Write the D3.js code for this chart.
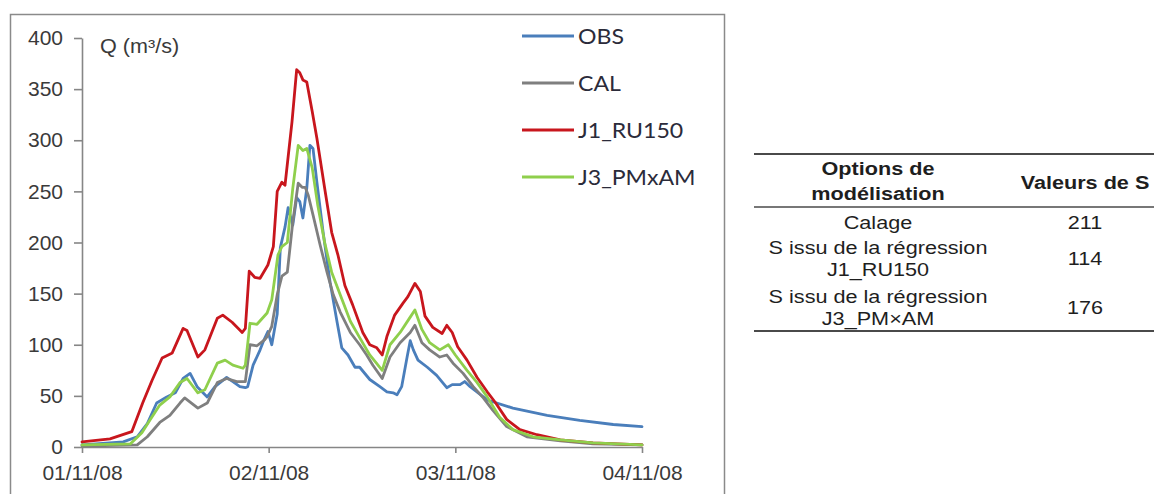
<!DOCTYPE html>
<html>
<head>
<meta charset="utf-8">
<script src="https://cdn.jsdelivr.net/npm/d3@7"></script>
<style>
  html, body { margin: 0; padding: 0; background: #ffffff; }
  svg { display: block; }
</style>
</head>
<body>
<svg id="chart" width="1154" height="494"></svg>
<script>
// ---------------- DATA ----------------
// time in hours since 01/11/08 00:00, discharge Q in m3/s
const seriesNames = ["OBS", "CAL", "J1_RU150", "J3_PMxAM"];

const obsHours = [0,5.3,7.1,8.4,9.6,10.9,12.0,13.0,13.9,14.8,16.1,17.1,18.6,19.4,20.3,21.0,21.3,22.0,22.9,23.3,23.9,24.4,25.1,25.5,26.1,26.5,27.1,27.6,28.0,28.4,28.9,29.3,29.7,30.2,31.0,31.9,32.8,33.4,34.2,35.1,35.7,37.0,38.3,39.2,40.0,40.5,41.1,41.8,42.2,42.6,43.2,44.4,45.6,46.9,47.6,48.6,49.2,49.9,52.1,55.4,59.8,64.0,68.3,72.0];
const obsValues = [2,5,10,23,43,49,53,67,72,59,49,59,68,64,59,58,59,80,95,103,113,100,130,195,215,234,217,244,240,224,253,295,292,259,210,161,122,97,90,78,78,66,59,54,53,51,59,88,104,95,85,78,70,58,61,61,64,59,46,38,31,26,22,20];

const calHours = [0,7.1,8.4,10.0,11.3,12.6,13.2,14.9,16.1,17.4,18.6,19.9,21.0,21.6,22.5,23.5,23.8,24.4,25.1,25.7,26.4,27.1,27.8,28.3,28.7,29.1,29.7,30.6,31.5,32.3,33.2,34.5,35.7,36.6,37.4,38.6,39.6,40.9,42.2,42.8,43.7,44.7,46.0,46.9,47.7,49.0,50.3,51.6,52.8,54.6,57.2,61.5,65.7,72.0];
const calValues = [1,2,10,24,31,43,48,38,43,63,67,64,64,100,99,105,108,118,149,167,171,220,258,254,254,246,227,198,171,149,132,112,100,90,80,67,88,102,112,119,102,95,88,90,82,72,59,48,36,20,10,6,3,2];

const j1Hours = [0,3.6,6.4,7.8,9.0,10.3,11.6,13.0,13.5,14.9,15.8,17.4,18.1,19.3,20.6,21.0,21.5,22.2,22.9,23.9,24.6,25.1,25.7,26.1,27.0,27.6,28.0,28.4,28.9,29.6,30.2,31.2,32.1,32.9,33.8,34.8,36.1,37.0,37.9,38.6,39.2,40.2,41.3,41.9,42.8,43.5,44.1,45.1,46.3,46.9,47.6,48.3,49.5,50.8,52.1,53.1,54.6,56.3,58.5,61.5,65.7,72.0];
const j1Values = [5,8,15,43,65,87,92,116,114,88,95,126,129,122,112,116,172,166,165,178,196,250,259,256,318,369,366,359,357,328,302,253,210,188,158,139,112,100,97,90,108,129,141,147,160,152,128,117,111,119,112,98,85,68,54,44,27,17,12,7,4,2];

const j3Hours = [0,6.2,7.7,8.7,10.0,11.3,12.6,13.5,14.9,15.8,17.4,18.4,19.4,20.7,21.0,21.6,22.5,23.8,24.4,25.2,25.7,26.4,27.1,27.8,28.4,28.9,29.6,30.3,31.2,32.1,33.2,34.5,35.7,37.0,38.6,39.6,40.9,42.2,42.8,43.7,44.7,46.0,47.1,48.0,49.5,50.8,52.1,53.7,55.4,58.0,61.5,65.7,72.0];
const j3Values = [2,3,14,26,41,49,63,67,53,56,82,85,80,77,80,121,120,131,144,188,196,200,253,295,290,292,273,237,200,171,149,123,107,90,75,100,112,127,134,115,102,95,100,90,75,63,49,29,17,10,7,4,2];

const xTickLabels = ["01/11/08", "02/11/08", "03/11/08", "04/11/08"];
const yTickValues = [0, 50, 100, 150, 200, 250, 300, 350, 400];
const yAxisTitle = "Q (m³/s)";

// table
const tableHeaderCol1 = ["Options de", "modélisation"];
const tableHeaderCol2 = "Valeurs de S";
const tableOptions = [["Calage"], ["S issu de la régression", "J1_RU150"], ["S issu de la régression", "J3_PM×AM"]];
const tableValues = [211, 114, 176];

// ---------------- DRAW ----------------
const svg = d3.select("#chart");
const parseTick = d3.timeParse("%d/%m/%y");
const t0 = parseTick(xTickLabels[0]);
const toDate = h => new Date(t0.getTime() + h * 3600 * 1000);

const colors = { "OBS": "#4a7ebb", "CAL": "#7f7f7f", "J1_RU150": "#c8161d", "J3_PMxAM": "#8fcf4c" };
const series = [
  { name: "OBS", hours: obsHours, values: obsValues },
  { name: "CAL", hours: calHours, values: calValues },
  { name: "J1_RU150", hours: j1Hours, values: j1Values },
  { name: "J3_PMxAM", hours: j3Hours, values: j3Values }
];

// chart frame
svg.append("rect")
  .attr("x", 10.5).attr("y", 14.5)
  .attr("width", 714).attr("height", 500)
  .attr("fill", "none").attr("stroke", "#8a8a8a").attr("stroke-width", 1.5);

const xTicks = xTickLabels.map(parseTick);
const x = d3.scaleTime().domain([xTicks[0], xTicks[xTicks.length - 1]]).range([82, 642]);
const y = d3.scaleLinear().domain([0, 400]).range([447, 38]);

const axisColor = "#868686";
const labelColor = "#3a3a3a";
const axisFont = "'Liberation Sans', Arial, sans-serif";

const yAxis = svg.append("g")
  .attr("transform", "translate(82,0)")
  .call(d3.axisLeft(y).tickValues(yTickValues).tickSize(8).tickSizeOuter(0).tickPadding(11));
const xAxis = svg.append("g")
  .attr("transform", "translate(0,447)")
  .call(d3.axisBottom(x).tickValues(xTicks).tickFormat(d3.timeFormat("%d/%m/%y")).tickSize(6).tickSizeOuter(0).tickPadding(12));

[yAxis, xAxis].forEach(g => {
  g.select(".domain").attr("stroke", axisColor).attr("stroke-width", 1.6);
  g.selectAll(".tick line").attr("stroke", axisColor).attr("stroke-width", 1.6);
  g.selectAll(".tick text").attr("fill", labelColor)
    .style("font-family", axisFont).style("font-size", "21px");
});

// y axis title
svg.append("text")
  .attr("transform", "translate(100,53) scale(1.08,1)")
  .attr("fill", labelColor)
  .style("font-family", axisFont).style("font-size", "20px")
  .text(yAxisTitle);

// lines
const line = d3.line()
  .x(d => x(d.date))
  .y(d => y(d.v));

series.forEach(s => {
  const pts = s.hours.map((h, i) => ({ date: toDate(h), v: s.values[i] }));
  svg.append("path")
    .datum(pts)
    .attr("d", line)
    .attr("fill", "none")
    .attr("stroke", colors[s.name])
    .attr("stroke-width", 2.8)
    .attr("stroke-linejoin", "round")
    .attr("stroke-linecap", "round");
});

// legend
const legend = svg.append("g");
seriesNames.forEach((name, i) => {
  const ly = 36 + i * 47;
  legend.append("line")
    .attr("x1", 522).attr("x2", 574).attr("y1", ly).attr("y2", ly)
    .attr("stroke", colors[name]).attr("stroke-width", 3);
  legend.append("text")
    .attr("transform", `translate(578,${ly}) scale(1.1,1)`)
    .attr("dy", "0.36em")
    .attr("fill", "#2b2b3a")
    .style("font-family", "Lato, 'Open Sans', sans-serif")
    .style("font-size", "21px")
    .text(name);
});

// table
const tbl = svg.append("g");
const tblFont = "'Liberation Sans', Arial, sans-serif";
const col1 = 878, col2 = 1085;
const tx = 1.17;
function ttext(str, cx, cy, bold) {
  tbl.append("text")
    .attr("transform", `translate(${cx},${cy}) scale(${tx},1)`)
    .attr("text-anchor", "middle")
    .attr("dy", "0.36em")
    .attr("fill", "#1e1e1e")
    .style("font-family", tblFont)
    .style("font-size", "18.5px")
    .style("font-weight", bold ? "bold" : "normal")
    .text(str);
}
[[154, 2], [207, 1.5], [331, 2]].forEach(([ly, w]) => {
  tbl.append("line")
    .attr("x1", 754).attr("x2", 1154).attr("y1", ly).attr("y2", ly)
    .attr("stroke", "#4a4a4a").attr("stroke-width", w);
});
ttext(tableHeaderCol1[0], col1, 168, true);
ttext(tableHeaderCol1[1], col1, 193, true);
ttext(tableHeaderCol2, col2, 182, true);
const rowCenters = [222, 258, 307];
tableOptions.forEach((lines, i) => {
  const c = rowCenters[i];
  if (lines.length === 1) {
    ttext(lines[0], col1, c, false);
  } else {
    ttext(lines[0], col1, c - 11, false);
    ttext(lines[1], col1, c + 11, false);
  }
  ttext(String(tableValues[i]), col2, c, false);
});
</script>
</body>
</html>
